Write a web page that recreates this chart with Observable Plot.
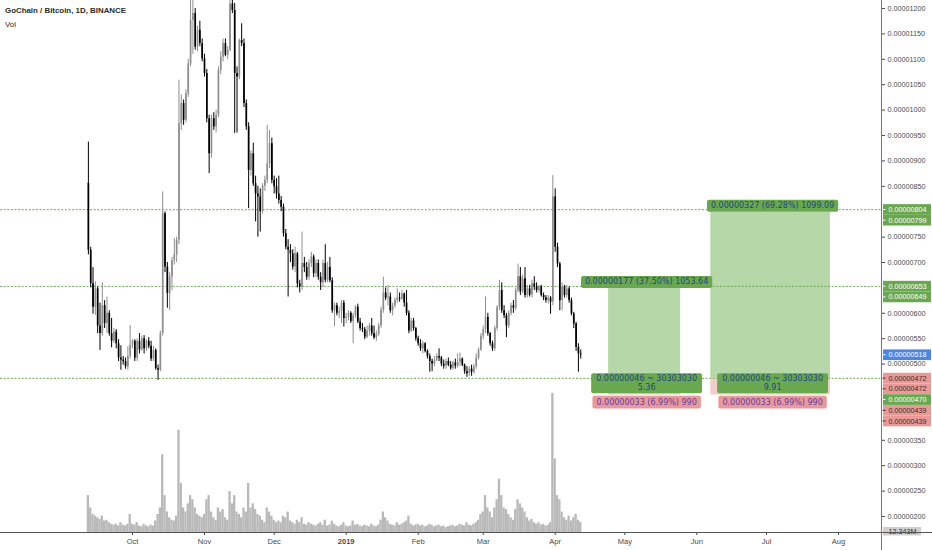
<!DOCTYPE html>
<html><head><meta charset="utf-8">
<script src="https://cdn.jsdelivr.net/npm/d3@7"></script>
<script src="https://cdn.jsdelivr.net/npm/@observablehq/plot@0.6"></script>
<style>
body{margin:0;background:#fff;}
#wrap{position:relative;width:932px;height:550px;overflow:hidden;background:#fff;}
#wrap svg{position:absolute;left:0;top:0;}
#title{position:absolute;left:5px;top:6px;font:bold 7.9px "Liberation Sans",Arial,sans-serif;color:#2b2b2b;z-index:3;}
#sub{position:absolute;left:5px;top:20px;font:7.9px "Liberation Sans",Arial,sans-serif;color:#2b2b2b;z-index:3;}
</style></head><body>
<div id="wrap"><div id="title">GoChain / Bitcoin, 1D, BINANCE</div><div id="sub">Vol</div></div>
<script>
// prices in satoshi (1e-8 BTC), daily candles from 2018-09-12
const firstDay = "2018-09-12";
const opens = [
856,724,658,612,648,575,560,615,580,600,
560,545,563,540,512,508,505,495,515,537,
545,512,545,528,550,530,545,535,510,527,
491,488,560,796,691,639,671,704,715,744,
973,1013,980,1032,1091,1177,1190,1124,1157,1131,
1101,1072,983,914,983,967,990,1078,1104,1131,
1108,1118,1209,1196,1072,1065,1137,1131,1013,967,
881,914,855,835,829,800,850,862,894,934,
862,849,835,822,809,757,730,724,717,691,
717,658,652,698,690,671,698,711,678,698,
671,660,698,665,690,664,605,615,600,603,
620,590,592,600,584,595,612,583,570,568,
553,565,575,560,552,558,575,606,640,630,
632,605,615,625,630,628,638,620,600,565,
585,570,550,540,530,540,525,515,505,500,
508,515,512,500,496,505,498,492,502,496,
504,510,498,485,481,490,484,495,512,528,
555,568,592,560,540,530,570,612,645,605,
595,575,600,615,610,645,672,642,668,635,
648,636,658,652,645,652,635,630,625,630,
622,829,730,697,625,651,635,648,625,599,
579,533,520];
const highs = [
937,730,690,662,652,620,660,625,632,605,
590,570,568,548,536,515,512,534,576,548,
548,550,560,555,556,548,552,545,535,530,
498,565,839,800,700,680,710,747,750,1059,
1030,1020,1040,1100,1216,1230,1200,1165,1175,1140,
1110,1080,990,990,995,1000,1085,1115,1140,1140,
1125,1225,1235,1210,1085,1140,1170,1140,1020,975,
920,935,870,850,845,855,870,970,960,945,
870,865,870,830,815,765,745,735,725,730,
720,665,760,710,700,705,720,715,705,705,
680,705,735,700,710,670,620,620,612,625,
625,600,605,603,600,615,618,590,580,572,
575,580,590,575,565,580,612,671,650,655,
640,620,630,648,640,645,640,645,605,590,
590,572,555,548,545,542,528,520,510,515,
520,530,515,508,510,512,505,505,510,520,
522,512,500,495,495,498,500,520,532,560,
575,632,600,562,545,575,615,665,660,615,
600,605,620,625,650,697,690,675,690,655,
655,665,672,660,655,655,640,635,635,633,
871,845,738,700,660,655,655,652,630,602,
582,540,528];
const lows = [
715,650,598,596,560,527,555,570,560,555,
532,540,530,505,488,498,490,488,510,530,
505,505,520,525,520,525,530,505,505,488,
468,485,555,680,610,605,645,695,700,735,
960,970,975,1025,1085,1110,1118,1115,1125,1095,
1065,975,875,905,960,955,985,1070,1095,1105,
1100,1115,1190,954,955,1060,1125,1005,960,806,
870,850,780,750,760,795,840,855,885,855,
835,825,815,800,750,725,632,700,685,680,
650,640,645,680,665,665,690,670,670,665,
645,650,660,660,660,600,573,595,590,580,
573,580,585,580,540,590,580,565,562,548,
550,555,555,548,545,555,570,600,625,615,
600,595,610,620,622,625,612,595,560,562,
565,545,535,525,520,522,510,484,485,495,
505,505,495,490,490,495,488,488,490,492,
495,495,480,474,475,476,480,490,508,525,
548,560,555,535,525,525,565,605,600,590,
552,570,595,600,605,640,635,638,630,630,
632,630,645,640,640,632,625,620,618,598,
615,720,690,605,605,630,630,620,595,570,
525,484,510];
const closes = [
724,658,612,648,575,560,615,580,600,560,
545,563,540,512,508,505,495,515,537,545,
512,545,528,550,530,545,535,510,527,491,
488,560,796,691,639,671,704,715,744,973,
1013,980,1032,1091,1177,1190,1124,1157,1131,1101,
1072,983,914,983,967,990,1078,1104,1131,1108,
1118,1209,1196,1072,1065,1137,1131,1013,967,881,
914,855,835,829,800,850,862,894,934,862,
849,835,822,809,757,730,724,717,691,717,
658,652,698,690,671,698,711,678,698,671,
660,698,665,690,664,605,615,600,603,620,
590,592,600,584,595,612,583,570,568,553,
565,575,560,552,558,575,606,640,630,632,
605,615,625,630,628,638,620,600,565,585,
570,550,540,530,540,525,515,505,500,508,
515,512,500,496,505,498,492,502,496,504,
510,498,485,481,490,484,495,512,528,555,
568,592,560,540,530,570,612,645,605,595,
575,600,615,610,645,672,642,668,635,648,
636,658,652,645,652,635,630,625,630,622,
829,730,697,625,651,635,648,625,599,579,
533,520,518];
// volume in millions of GO
const volumes = [
45,30,22,20,18,16,20,14,15,12,
10,9,10,8,12,9,8,10,22,10,
9,12,8,7,10,8,7,9,8,14,
22,30,95,45,25,18,15,14,20,125,
60,30,25,35,45,40,30,22,20,18,
22,40,45,25,18,15,30,25,28,18,
15,50,35,45,25,22,18,30,25,60,
30,35,28,22,20,15,12,30,25,20,
15,12,14,12,20,18,25,14,12,10,
15,12,18,10,9,12,10,9,8,10,
12,9,15,8,9,14,10,8,7,9,
12,8,7,8,14,9,10,8,7,9,
8,7,10,8,7,9,15,25,18,14,
10,9,8,12,9,10,12,14,20,10,
8,9,10,8,9,7,8,10,9,7,
8,9,7,8,6,7,8,9,7,8,
10,9,8,12,9,8,10,12,15,22,
25,45,30,25,18,30,40,65,45,30,
28,22,18,15,28,40,35,30,25,18,
14,16,12,10,12,9,10,8,9,12,
170,90,45,40,25,18,15,20,14,18,
22,15,12.343];

// horizontal levels drawn on chart
const levels = [804, 653, 472];
// long-position tools
const posStart = ["2019-04-24", "2019-06-07"];
const posEnd = ["2019-05-25", "2019-07-28T12:00:00Z"];
const posEntry = [472, 472];
const posTarget = [649, 799];
const posStop = [439, 439];
const posTopText = ["0.00000177 (37.50%) 1053.64", "0.00000327 (69.28%) 1099.09"];
const posMidText = ["0.00000046 ~ 30303030\n5.36", "0.00000046 ~ 30303030\n9.91"];
const posStopText = ["0.00000033 (6.99%) 990", "0.00000033 (6.99%) 990"];
// price scale tags
const tagValues = [804, 799, 653, 649, 518, 472, 472, 470, 439, 439];
const tagKinds = ["green","green","green","green","blue","pink","pink","green","pink","pink"];
// axis ticks
const yTicks = [1200,1150,1100,1050,1000,950,900,850,750,700,600,550,500,350,300,250,200];
const monthTicks = ["2018-10-01","2018-11-01","2018-12-01","2019-01-01","2019-02-01","2019-03-01","2019-04-01","2019-05-01","2019-06-01","2019-07-01","2019-08-01"];

const DAY = 864e5;
const t0 = Date.parse(firstDay);
const candles = closes.map((c, i) => ({
  date: new Date(t0 + i * DAY), open: opens[i], high: highs[i], low: lows[i], close: c, vol: volumes[i]
}));
const positions = posStart.map((s, i) => ({
  start: new Date(s), end: new Date(posEnd[i]), entry: posEntry[i], target: posTarget[i], stop: posStop[i],
  mid: new Date((Date.parse(s) + Date.parse(posEnd[i])) / 2),
  top: posTopText[i], midT: posMidText[i], stopT: posStopText[i]
}));
const kindFill = {green: "#6aa84f", blue: "#4a86e8", pink: "#ea9999"};
const kindText = {green: "#ffffff", blue: "#ffffff", pink: "#3b2a2a"};
// stack tags so they don't overlap (approx 21 satoshi per tag height)
const tags = [];
tagValues.forEach((v, i) => {
  const prev = tags[i - 1];
  const yv = prev ? Math.min(v, prev.yv - 21.1) : v;
  tags.push({v, yv, kind: tagKinds[i]});
});

const fmt = v => (v / 1e8).toFixed(8);
const oct1 = Date.UTC(2018, 9, 1);
const xDomain = [new Date(oct1 - 56.84 * DAY), new Date(oct1 + 322.5 * DAY)];
const common = {width: 932, height: 550, marginLeft: 0, marginRight: 51, marginTop: 0, marginBottom: 18};
const upCol = "#8e8e8e", downCol = "#000000";

const volPlot = Plot.plot({
  ...common,
  style: {background: "transparent", fontFamily: "Liberation Sans, Arial, sans-serif"},
  x: {type: "utc", domain: xDomain, axis: null},
  y: {domain: [0, 650], axis: null},
  marks: [
    Plot.rect(candles, {x1: d => new Date(+d.date - DAY / 2), x2: d => new Date(+d.date + DAY / 2), y1: 0, y2: "vol", fill: "#b9b9b9"}),
    Plot.text([volumes[volumes.length - 1]], {y: d => d, text: d => d.toFixed(3) + "M", frameAnchor: "right", textAnchor: "start", dx: 7, dy: 9, fill: "#333", fontSize: 7.2, ariaDescription: "voltag"})
  ]
});

const pricePlot = Plot.plot({
  ...common,
  style: {background: "transparent", fontFamily: "Liberation Sans, Arial, sans-serif", color: "#4a4a4a"},
  x: {type: "utc", domain: xDomain},
  y: {domain: [168.5, 1215.75]},
  color: {type: "identity"},
  marks: [
    Plot.rect(positions, {x1: "start", x2: "end", y1: "entry", y2: "target", fill: "#b6d7a8"}),
    Plot.rect(positions, {x1: "start", x2: "end", y1: "stop", y2: "entry", fill: "#f4cccc"}),
    Plot.ruleY(levels, {stroke: "#6aa84f", strokeDasharray: "2,1.6", strokeWidth: 1}),
    Plot.ruleX(candles, {x: "date", y1: "low", y2: "high", stroke: d => d.close >= d.open ? upCol : downCol, strokeWidth: 1}),
    Plot.ruleX(candles, {x: "date", y1: "open", y2: "close", stroke: d => d.close >= d.open ? upCol : downCol, strokeWidth: 1.7}),
    Plot.text(positions, {x: "mid", y: "target", text: "top", dx: 2, dy: -6.5, fill: "#1c4587", fontSize: 8, fontFamily: "DejaVu Sans", ariaDescription: "lbl-top"}),
    Plot.text(positions, {x: "mid", y: "entry", text: "midT", dx: 2, dy: 4.5, fill: "#1c4587", fontSize: 8, lineHeight: 1.15, fontFamily: "DejaVu Sans", ariaDescription: "lbl-mid"}),
    Plot.text(positions, {x: "mid", y: "stop", text: "stopT", dx: 2, dy: 7, fill: "#5b3da8", fontSize: 8, fontFamily: "DejaVu Sans", ariaDescription: "lbl-stop"}),
    Plot.axisY({anchor: "right", ticks: yTicks, tickFormat: fmt, tickSize: 3, tickPadding: 3, fontSize: 7.2}),
    Plot.axisX({ticks: monthTicks.map(s => new Date(s)), tickFormat: d => d.getUTCMonth() === 0 ? String(d.getUTCFullYear()) : d3.utcFormat("%b")(d), tickSize: 3, tickPadding: 3.5, fontSize: 7.5}),
    Plot.text(tags, {y: "yv", text: d => fmt(d.v), fill: d => kindText[d.kind], frameAnchor: "right", textAnchor: "start", dx: 7, fontSize: 7.2, ariaDescription: "tags"})
  ]
});

const wrap = document.getElementById("wrap");
wrap.appendChild(volPlot);
wrap.appendChild(pricePlot);

const NS = "http://www.w3.org/2000/svg";
function addBg(svg, desc, fillFn, opts) {
  svg.querySelectorAll(`g[aria-description="${desc}"] text`).forEach((t, i) => {
    const b = t.getBBox();
    const r = document.createElementNS(NS, "rect");
    const cy = b.y + b.height / 2;
    const h = opts.h || (b.height + 2 * opts.py);
    const x = opts.fx != null ? opts.fx : b.x - opts.px;
    const w = opts.fw != null ? opts.fw : b.width + 2 * opts.px;
    r.setAttribute("x", x); r.setAttribute("y", cy - h / 2);
    r.setAttribute("width", w); r.setAttribute("height", h);
    r.setAttribute("rx", opts.rx || 0);
    r.setAttribute("fill", fillFn(i));
    if (t.getAttribute("transform")) r.setAttribute("transform", t.getAttribute("transform"));
    t.parentNode.insertBefore(r, t);
    if (opts.tick) {
      const l = document.createElementNS(NS, "line");
      l.setAttribute("x1", -6); l.setAttribute("x2", -3);
      l.setAttribute("y1", cy); l.setAttribute("y2", cy);
      l.setAttribute("stroke", opts.tick(i));
      if (t.getAttribute("transform")) l.setAttribute("transform", t.getAttribute("transform"));
      t.parentNode.insertBefore(l, t);
    }
  });
}
addBg(pricePlot, "lbl-top", () => "#6aa84f", {px: 4, py: 1.5, rx: 2});
addBg(pricePlot, "lbl-mid", () => "#6aa84f", {px: 5, py: 1, rx: 2});
addBg(pricePlot, "lbl-stop", () => "#ea9999", {px: 4, py: 1.8, rx: 2});
addBg(pricePlot, "tags", i => kindFill[tags[i].kind], {fx: -5.5, fw: 48, h: 10.7, tick: i => kindText[tags[i].kind]});
addBg(volPlot, "voltag", () => "#cfcfcf", {fx: -5.5, fw: 38, h: 8.5});

// bold year label
pricePlot.querySelectorAll("text").forEach(t => { if (t.textContent === "2019") t.setAttribute("font-weight", "bold"); });

// frame lines (price-scale border and time-scale border)
const frame = document.createElementNS(NS, "g");
frame.innerHTML = `<line x1="0" x2="932" y1="532.5" y2="532.5" stroke="#555" stroke-width="1"/><line x1="881.5" x2="881.5" y1="0" y2="550" stroke="#777" stroke-width="1"/>`;
pricePlot.appendChild(frame);
</script>
</body></html>
